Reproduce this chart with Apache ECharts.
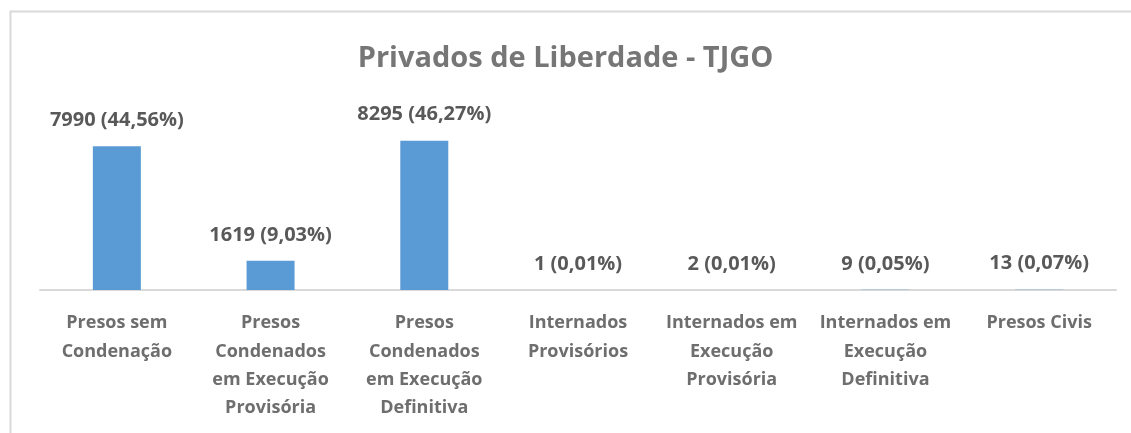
<!DOCTYPE html>
<html>
<head>
<meta charset="utf-8">
<script src="https://cdn.jsdelivr.net/npm/echarts@6/dist/echarts.min.js"></script>
<style>
html,body{margin:0;padding:0;background:#fff;}
#chart{width:1131px;height:433px;}
</style>
</head>
<body>
<div id="chart"></div>
<script>
const categories = [
  "Presos sem\nCondenação",
  "Presos\nCondenados\nem Execução\nProvisória",
  "Presos\nCondenados\nem Execução\nDefinitiva",
  "Internados\nProvisórios",
  "Internados em\nExecução\nProvisória",
  "Internados em\nExecução\nDefinitiva",
  "Presos Civis"
];
const values = [7990, 1619, 8295, 1, 2, 9, 13];
const percentLabels = ["44,56%", "9,03%", "46,27%", "0,01%", "0,01%", "0,05%", "0,07%"];
const titleText = "Privados de Liberdade - TJGO";

const font = "'Open Sans', 'Noto Sans', sans-serif";
const chart = echarts.init(document.getElementById('chart'), null, {renderer: 'canvas'});
chart.setOption({
  animation: false,
  backgroundColor: '#ffffff',
  graphic: [{
    type: 'rect',
    shape: {x: 10.5, y: 11.5, width: 1200, height: 500},
    style: {fill: 'none', stroke: '#d9d9d9', lineWidth: 2},
    silent: true
  }],
  title: {
    text: titleText,
    left: 'center',
    top: 39,
    textStyle: {fontFamily: font, fontSize: 29, fontWeight: 'bold', color: '#767676'}
  },
  grid: {left: 40, right: 15, top: 110, bottom: 143, containLabel: false},
  xAxis: {
    type: 'category',
    data: categories,
    axisLine: {lineStyle: {color: '#d9d9d9', width: 2}},
    axisTick: {show: false},
    axisLabel: {
      interval: 0,
      margin: 19,
      fontFamily: font,
      fontSize: 18,
      fontWeight: 'bold',
      color: '#6e6e6e',
      lineHeight: 28.3,
      align: 'center'
    }
  },
  yAxis: {
    type: 'value',
    min: 0,
    max: 10000,
    show: false,
    splitLine: {show: false}
  },
  series: [{
    type: 'bar',
    data: values,
    barWidth: 48,
    itemStyle: {color: '#5b9bd5'},
    label: {
      show: true,
      position: 'top',
      distance: 16,
      fontFamily: font,
      fontSize: 20,
      fontWeight: 'bold',
      color: '#595959',
      formatter: p => p.value + ' (' + percentLabels[p.dataIndex] + ')'
    }
  }]
});
</script>
</body>
</html>
